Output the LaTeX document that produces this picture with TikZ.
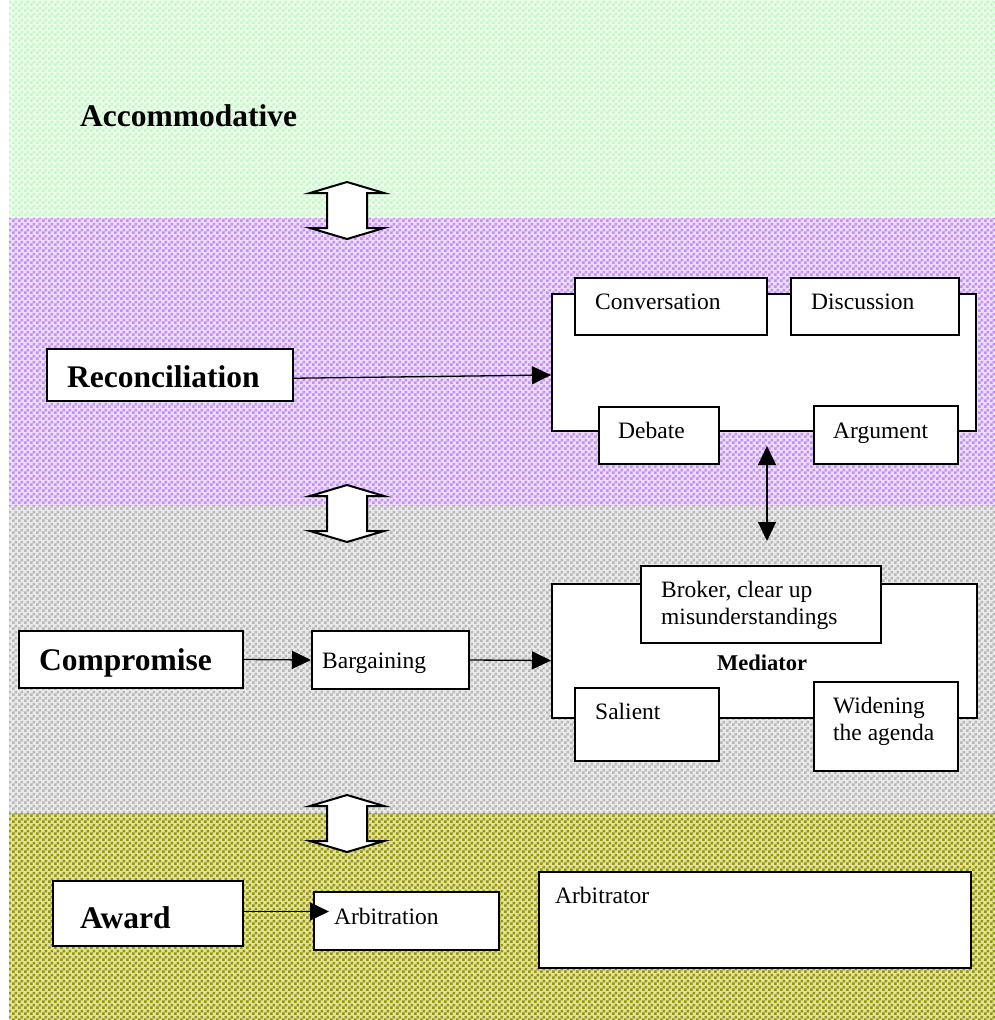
\documentclass[tikz,border=0pt]{standalone}
\usepackage{fontspec}
\setmainfont{Liberation Serif}
\usetikzlibrary{patterns,arrows.meta,calc}

% small checker texture for the background bands
\pgfdeclarepatternformonly{checks}{\pgfpointorigin}{\pgfqpoint{6pt}{6pt}}{\pgfqpoint{6pt}{6pt}}{%
  \pgfpathrectangle{\pgfpointorigin}{\pgfqpoint{3pt}{3pt}}%
  \pgfpathrectangle{\pgfqpoint{3pt}{3pt}}{\pgfqpoint{3pt}{3pt}}%
  \pgfusepath{fill}}

\definecolor{bandgreen}{HTML}{C4F8C4}
\definecolor{bandpurple}{HTML}{C48EF8}
\definecolor{bandgray}{HTML}{B8B8B8}
\definecolor{bandolive}{HTML}{969600}

\newcommand\stackedtext[2]{\begin{tabular}[t]{@{}l@{}}#1\\#2\end{tabular}}

\tikzset{
  band/.style={pattern=checks},
  box/.style={draw=black, line width=2pt, fill=white, rectangle, inner sep=0pt, anchor=north west},
  title/.style={inner sep=0pt, anchor=base west, font=\fontsize{31.5}{36}\selectfont\bfseries},
  lbl/.style={inner sep=0pt, anchor=base west, font=\fontsize{23.5}{27}\selectfont},
  conn/.style={line width=1.3pt, -{Triangle[length=19pt,width=18pt]}},
  twoway/.style={line width=1.3pt, {Triangle[length=19pt,width=18pt]}-{Triangle[length=19pt,width=18pt]}},
  blockarrow/.style={draw=black, fill=white, line width=2pt, line join=miter},
  updown/.pic={\path[blockarrow] (0,0) -- (37,11) -- (20,11) -- (20,46) -- (37,46)
      -- (0,57) -- (-37,46) -- (-20,46) -- (-20,11) -- (-37,11) -- cycle;}
}

\begin{document}
\begin{tikzpicture}[x=1pt,y=-1pt]
\useasboundingbox (0,0) rectangle (995,1020);

% background bands: a pale wash under a checker texture
\fill[white] (0,0) rectangle (995,1020);
\fill[bandgreen!30]  (9,0)   rectangle (995,218);
\fill[bandpurple!30] (9,218) rectangle (995,506);
\fill[bandgray!30]   (9,506) rectangle (995,813);
\fill[bandolive!30]  (9,813) rectangle (995,1020);
\path[band, pattern color=bandgreen]  (9,0)   rectangle (995,218);
\path[band, pattern color=bandpurple] (9,218) rectangle (995,506);
\path[band, pattern color=bandgray]   (9,506) rectangle (995,813);
\path[band, pattern color=bandolive]  (9,813) rectangle (995,1020);

% level titles
\node[title] (accom) at (80,126) {Accommodative};

% transitions between levels
\pic at (347,182) {updown};
\pic at (347,485) {updown};
\pic at (347,795) {updown};

% reconciliation level
\node[box, minimum width=246pt, minimum height=52pt] (recon) at (46,348) {};
\node[title] (recon-t) at ($(recon.north west)+(21,39)$) {Reconciliation};

\node[box, minimum width=424pt, minimum height=137pt] (talk) at (551,293) {};
\node[box, minimum width=192pt, minimum height=57pt] (conv) at (574,277) {};
\node[lbl] (conv-t) at ($(conv.north west)+(21,32)$) {Conversation};
\node[box, minimum width=168pt, minimum height=57pt] (disc) at (790,277) {};
\node[lbl] (disc-t) at ($(disc.north west)+(21,32)$) {Discussion};
\node[box, minimum width=120pt, minimum height=57pt] (deb) at (598,406) {};
\node[lbl] (deb-t) at ($(deb.north west)+(20,32)$) {Debate};
\node[box, minimum width=144pt, minimum height=58pt] (argu) at (813,405) {};
\node[lbl] (argu-t) at ($(argu.north west)+(20,33)$) {Argument};

\draw[conn] ($(recon.north east)!0.56!(recon.south east)$) -- ($(talk.north west)!0.59!(talk.south west)$);

% compromise level
\node[box, minimum width=224pt, minimum height=57pt] (comp) at (18,630) {};
\node[title] (comp-t) at ($(comp.north west)+(21,40)$) {Compromise};
\node[box, minimum width=157pt, minimum height=58pt] (barg) at (311,630) {};
\node[lbl] (barg-t) at ($(barg.north west)+(11,38)$) {Bargaining};

\node[box, minimum width=425pt, minimum height=134pt] (med) at (551,583) {};
\node[box, minimum width=240pt, minimum height=77pt] (brok) at (640,565) {};
\node[lbl] (brok-t) at ($(brok.north west)+(21,32)$) {\stackedtext{Broker, clear up}{misunderstandings}};
\node[inner sep=0pt, anchor=base, font=\fontsize{22.5}{26}\selectfont\bfseries] (med-t) at (762,670) {Mediator};
\node[box, minimum width=144pt, minimum height=73pt] (sal) at (574,687) {};
\node[lbl] (sal-t) at ($(sal.north west)+(21,32)$) {Salient};
\node[box, minimum width=144pt, minimum height=89pt] (wide) at (813,681) {};
\node[lbl] (wide-t) at ($(wide.north west)+(20,32)$) {\stackedtext{Widening}{the agenda}};

\draw[conn] (comp.east) -- (barg.west);
\draw[conn] (barg.east) -- ($(med.north west)!0.57!(med.south west)$);

\coordinate (link-top) at (767,446);
\coordinate (link-bot) at (767,541);
\draw[twoway] (link-top) -- (link-bot);

% award level
\node[box, minimum width=190pt, minimum height=65pt] (award) at (52,880) {};
\node[title] (award-t) at ($(award.north west)+(28,48)$) {Award};
\node[box, minimum width=185pt, minimum height=58pt] (arb) at (313,891) {};
\node[lbl] (arb-t) at ($(arb.north west)+(21,33)$) {Arbitration};
\node[box, minimum width=432pt, minimum height=96pt] (arbr) at (538,871) {};
\node[lbl] (arbr-t) at ($(arbr.north west)+(17,32)$) {Arbitrator};

\draw[conn] ($(award.north east)!0.47!(award.south east)$) -- ++(85,0);
\end{tikzpicture}
\end{document}
